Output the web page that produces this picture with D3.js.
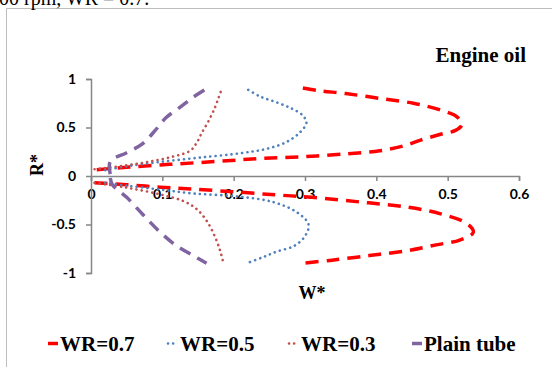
<!DOCTYPE html>
<html><head><meta charset="utf-8">
<script src="https://cdn.jsdelivr.net/npm/d3@7"></script>
<style>body{margin:0;background:#fff}svg{display:block}</style>
</head><body>
<svg id="c" width="552" height="367"></svg>
<script>
// ---- data ----
const xTicks = [0, 0.1, 0.2, 0.3, 0.4, 0.5, 0.6];
const yTicks = [-1, -0.5, 0, 0.5, 1];
const seriesNames = ["WR=0.7", "WR=0.5", "WR=0.3", "Plain tube"];
const wr07Upper = [[0.008,0.065],[0.05,0.09],[0.11,0.12],[0.176,0.15],[0.237,0.18],[0.30,0.20],[0.36,0.23],[0.405,0.26],[0.438,0.31],[0.462,0.37],[0.49,0.43],[0.511,0.47],[0.52,0.53],[0.513,0.61],[0.49,0.68],[0.452,0.75],[0.405,0.80],[0.357,0.85],[0.32,0.88],[0.295,0.91]];
const wr07Lower = [[0.005,-0.07],[0.05,-0.09],[0.097,-0.115],[0.143,-0.135],[0.204,-0.165],[0.26,-0.195],[0.31,-0.22],[0.38,-0.27],[0.443,-0.32],[0.49,-0.39],[0.527,-0.49],[0.536,-0.58],[0.517,-0.66],[0.484,-0.71],[0.443,-0.77],[0.39,-0.82],[0.335,-0.87],[0.295,-0.9]];
const wr05Upper = [[0.02,0.06],[0.05,0.1],[0.097,0.145],[0.153,0.19],[0.21,0.235],[0.246,0.28],[0.274,0.35],[0.293,0.45],[0.302,0.55],[0.296,0.63],[0.28,0.7],[0.26,0.76],[0.237,0.82],[0.218,0.9]];
const wr05Lower = [[0.02,-0.07],[0.05,-0.1],[0.097,-0.14],[0.143,-0.18],[0.204,-0.21],[0.256,-0.27],[0.29,-0.38],[0.305,-0.5],[0.3,-0.62],[0.285,-0.72],[0.26,-0.78],[0.24,-0.84],[0.218,-0.9]];
const wr03Upper = [[0.005,0.07],[0.05,0.11],[0.083,0.15],[0.115,0.2],[0.139,0.26],[0.148,0.34],[0.155,0.44],[0.165,0.57],[0.174,0.71],[0.179,0.81],[0.184,0.91]];
const wr03Lower = [[0.005,-0.07],[0.05,-0.12],[0.097,-0.19],[0.13,-0.26],[0.148,-0.34],[0.162,-0.46],[0.174,-0.63],[0.181,-0.77],[0.185,-0.88]];
const plainUpper = [[0.027,0.02],[0.027,0.15],[0.05,0.24],[0.072,0.33],[0.09,0.47],[0.105,0.6],[0.125,0.71],[0.143,0.81],[0.162,0.9]];
const plainLower = [[0.027,-0.02],[0.03,-0.09],[0.05,-0.22],[0.073,-0.4],[0.097,-0.58],[0.12,-0.72],[0.143,-0.82],[0.162,-0.9]];

const styles = [
  {color:"#FF0000", w:3.5, dash:"13,8", cap:"butt"},
  {color:"#4F81BD", w:2.6, dash:"0.1,5.2", cap:"round"},
  {color:"#C0504D", w:2.6, dash:"0.1,5.2", cap:"round"},
  {color:"#8064A2", w:3.5, dash:"12,8", cap:"butt"}
];
const seriesData = [[wr07Upper, wr07Lower],[wr05Upper, wr05Lower],[wr03Upper, wr03Lower],[plainUpper, plainLower]];

const svg = d3.select("#c");
const x = d3.scaleLinear().domain([0,0.6]).range([91,519]);
const y = d3.scaleLinear().domain([-1,1]).range([273,79]);

// frame border
svg.append("path").attr("d","M6.5,367 V8.5 H552").attr("fill","none").attr("stroke","#bdbdbd").attr("stroke-width",1);
// clipped top text (cut off in the reference too)
svg.append("text").attr("x",-1).attr("y",4.5).attr("font-family","Liberation Serif").attr("font-size",20).attr("fill","#000").text("00 rpm, WR = 0.7.");

const fmt = d => String(d);
// axes
const xAxis = d3.axisBottom(x).tickValues(xTicks).tickSize(5).tickFormat(fmt);
const gx = svg.append("g").attr("transform",`translate(0,${y(0)})`).call(xAxis);
gx.select(".domain").attr("stroke","#868686").attr("stroke-width",1.5);
gx.selectAll(".tick line").attr("stroke","#868686").attr("stroke-width",1.5);
gx.selectAll(".tick text").attr("font-family","Lato").attr("font-weight","bold").attr("font-size",14).attr("fill","#000").attr("dy","1.1em").attr("y",8);

const yAxis = d3.axisLeft(y).tickValues(yTicks).tickSize(5).tickFormat(fmt);
const gy = svg.append("g").attr("transform",`translate(${x(0)},0)`).call(yAxis);
gy.select(".domain").attr("stroke","#868686").attr("stroke-width",1.5);
gy.selectAll(".tick line").attr("stroke","#868686").attr("stroke-width",1.5);
gy.selectAll(".tick text").attr("font-family","Lato").attr("font-weight","bold").attr("font-size",14).attr("fill","#000").attr("x",-15);

// lines
const line = d3.line().x(d=>x(d[0])).y(d=>y(d[1])).curve(d3.curveCatmullRom.alpha(0.5));
seriesData.forEach((branches,i)=>{
  const s = styles[i];
  branches.forEach(b=>{
    svg.append("path").attr("d",line(b)).attr("fill","none").attr("stroke",s.color)
      .attr("stroke-width",s.w).attr("stroke-dasharray",s.dash).attr("stroke-linecap",s.cap);
  });
});

// labels
svg.append("text").attr("x",526).attr("y",61.5).attr("text-anchor","end").attr("font-family","Liberation Serif").attr("font-weight","bold").attr("font-size",21).text("Engine oil");
svg.append("text").attr("transform","translate(43,165) rotate(-90)").attr("text-anchor","middle").attr("font-family","Liberation Serif").attr("font-weight","bold").attr("font-size",18).text("R*");
svg.append("text").attr("x",312).attr("y",299).attr("text-anchor","middle").attr("font-family","Liberation Serif").attr("font-weight","bold").attr("font-size",18).text("W*");

// legend
const legX = [60, 180, 301, 424];
seriesNames.forEach((n,i)=>{
  const s = styles[i];
  const tx = legX[i];
  svg.append("line").attr("x1",tx-12).attr("x2",tx-2).attr("y1",343.5).attr("y2",343.5)
    .attr("stroke",s.color).attr("stroke-width",s.w).attr("stroke-dasharray", i==1||i==2 ? "0.1,5" : null)
    .attr("stroke-linecap", s.cap);
  svg.append("text").attr("x",tx).attr("y",351).attr("font-family","Liberation Serif").attr("font-weight","bold").attr("font-size",21).text(n);
});
</script>
</body></html>
